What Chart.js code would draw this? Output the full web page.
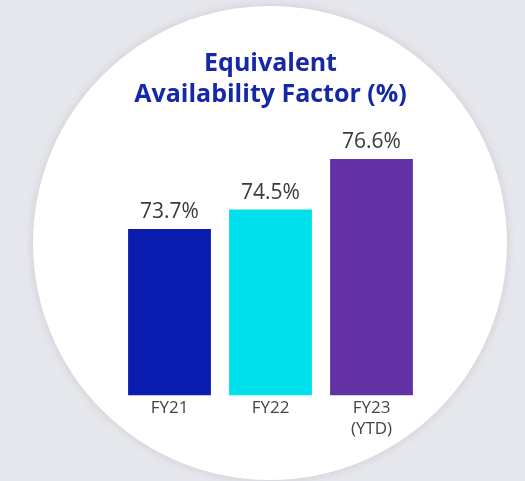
<!DOCTYPE html>
<html>
<head>
<meta charset="utf-8">
<script src="https://cdn.jsdelivr.net/npm/chart.js@4.4.1/dist/chart.umd.min.js"></script>
<style>
  html, body { margin: 0; padding: 0; background: #e6e7ec; }
  #wrap { width: 525px; height: 481px; position: relative; }
</style>
</head>
<body>
<div id="wrap"><canvas id="c" width="525" height="481"></canvas></div>
<script>
const categories = [["FY21"], ["FY22"], ["FY23", "(YTD)"]];
const values = [73.7, 74.5, 76.6];
const valueLabels = ["73.7%", "74.5%", "76.6%"];
const barColors = ["#0a1bb0", "#00e0ec", "#6232a5"];
const titleLines = ["Equivalent", "Availability Factor (%)"];

const backdrop = {
  id: 'backdrop',
  beforeDraw(chart) {
    const ctx = chart.ctx;
    ctx.save();
    ctx.fillStyle = '#e6e7ec';
    ctx.fillRect(0, 0, chart.width, chart.height);
    ctx.shadowColor = 'rgba(0,0,0,0.12)';
    ctx.shadowBlur = 10;
    ctx.beginPath();
    ctx.arc(270, 243, 237, 0, Math.PI * 2);
    ctx.fillStyle = '#ffffff';
    ctx.fill();
    ctx.restore();
  }
};

const valueLabelPlugin = {
  id: 'valueLabels',
  afterDatasetsDraw(chart) {
    const ctx = chart.ctx;
    const meta = chart.getDatasetMeta(0);
    ctx.save();
    ctx.font = '21px "Open Sans"';
    ctx.fillStyle = '#3a3a3a';
    ctx.textAlign = 'center';
    ctx.textBaseline = 'alphabetic';
    meta.data.forEach((bar, i) => {
      ctx.fillText(valueLabels[i], bar.x, bar.y - 11);
    });
    ctx.restore();
  }
};

new Chart(document.getElementById('c'), {
  type: 'bar',
  data: {
    labels: categories,
    datasets: [{
      data: values,
      backgroundColor: barColors,
      borderWidth: 0,
      categoryPercentage: 1,
      barPercentage: 0.82
    }]
  },
  options: {
    responsive: false,
    animation: false,
    events: [],
    layout: { padding: { left: 119, right: 103, top: 0, bottom: 35 } },
    plugins: {
      legend: { display: false },
      tooltip: { enabled: false },
      title: {
        display: true,
        text: titleLines,
        color: '#1428a8',
        font: { family: '"Open Sans"', size: 25, weight: 'bold', lineHeight: 1.24 },
        padding: { top: 48, bottom: 8 }
      }
    },
    scales: {
      x: {
        grid: { display: false },
        border: { display: false },
        ticks: {
          color: '#444444',
          font: { family: '"Open Sans"', size: 17, lineHeight: 1.2 },
          padding: -5,
          maxRotation: 0
        },
        afterFit(scale) { scale.height = scale.height + 12; }
      },
      y: {
        display: false,
        min: 66.8,
        max: 78.3
      }
    }
  },
  plugins: [backdrop, valueLabelPlugin]
});
</script>
</body>
</html>
